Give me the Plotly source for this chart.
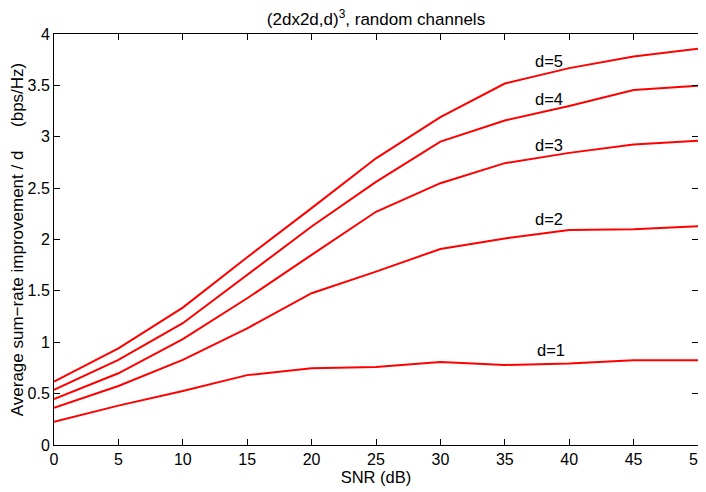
import plotly.graph_objects as go

snr = [0, 5, 10, 15, 20, 25, 30, 35, 40, 45, 50]
d1 = [0.227, 0.383, 0.526, 0.68, 0.747, 0.76, 0.808, 0.779, 0.792, 0.825, 0.825]
d2 = [0.363, 0.574, 0.828, 1.136, 1.477, 1.687, 1.908, 2.01, 2.093, 2.10, 2.13]
d3 = [0.448, 0.698, 1.03, 1.428, 1.85, 2.27, 2.548, 2.743, 2.843, 2.924, 2.96]
d4 = [0.536, 0.828, 1.185, 1.66, 2.126, 2.56, 2.953, 3.158, 3.30, 3.454, 3.496]
d5 = [0.617, 0.941, 1.337, 1.827, 2.305, 2.79, 3.19, 3.518, 3.668, 3.78, 3.856]
series = [d1, d2, d3, d4, d5]
labels = ["d=1", "d=2", "d=3", "d=4", "d=5"]
label_x = [38.6, 38.4, 38.4, 38.4, 38.4]
label_y = [0.92, 2.2, 2.92, 3.37, 3.74]
x_ticks = list(range(0, 51, 5))
y_ticks = [0, 0.5, 1, 1.5, 2, 2.5, 3, 3.5, 4]
y_ticktext = ["0", "0.5", "1", "1.5", "2", "2.5", "3", "3.5", "4"]

FONT = "Liberation Sans, Arial, Helvetica, sans-serif"

fig = go.Figure()
for s in series:
    fig.add_trace(go.Scatter(x=snr, y=s, mode="lines",
                             line=dict(color="#ff0000", width=2),
                             showlegend=False, hoverinfo="skip"))
for t, x, y in zip(labels, label_x, label_y):
    fig.add_annotation(x=x, y=y, text=t, showarrow=False,
                       font=dict(family=FONT, size=16.5, color="black"))

axis_common = dict(showline=True, linecolor="black", linewidth=1, mirror="ticks",
                   ticks="inside", ticklen=6, tickcolor="black", showgrid=False,
                   zeroline=False, automargin=False, ticklabeloverflow="allow",
                   tickfont=dict(family=FONT, size=16, color="black"))

# The page body has an 8px margin, so the figure is sized to fit the window.
fig.update_layout(
    width=698, height=484,
    margin=dict(l=46, r=8, t=26, b=47),
    paper_bgcolor="white", plot_bgcolor="white",
    title=dict(text="(2dx2d,d)<sup>3</sup>, random channels", xref="paper", x=0.5,
               xanchor="center", yref="container", y=0.977, yanchor="middle",
               font=dict(family=FONT, size=17, color="black")),
    xaxis=dict(range=[0, 50], tickvals=x_ticks,
               title=dict(text="SNR (dB)", standoff=0,
                          font=dict(family=FONT, size=16.5, color="black")),
               **axis_common),
    yaxis=dict(range=[0, 4], tickvals=y_ticks, ticktext=y_ticktext,
               title=dict(text="Average sum\u2212rate improvement / d \u00a0\u00a0\u00a0\u00a0(bps/Hz)\u00a0\u00a0", standoff=0,
                          font=dict(family=FONT, size=17, color="black")),
               **axis_common),
)

fig.write_html("out.html")
